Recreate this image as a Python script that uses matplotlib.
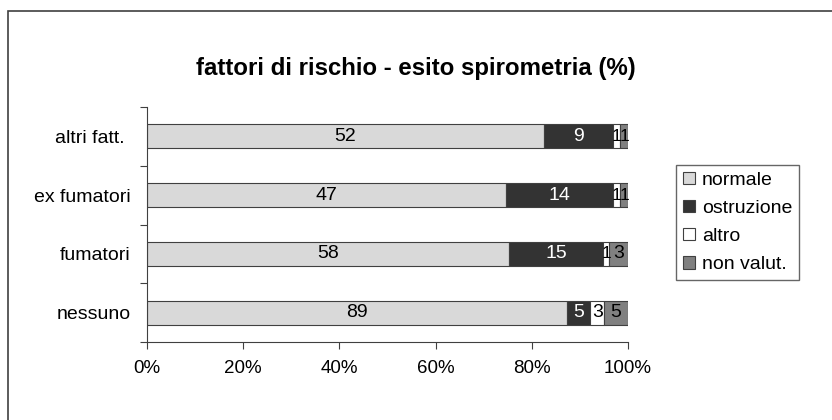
import numpy as np
import matplotlib.pyplot as plt
from matplotlib.patches import Rectangle

plt.rcParams['font.family'] = ['Liberation Sans', 'DejaVu Sans']

# categorie (dal basso verso l'alto) e valori
categorie = ['nessuno', 'fumatori', 'ex fumatori', 'altri fatt. ']
normale = [89, 58, 47, 52]
ostruzione = [5, 15, 14, 9]
altro = [3, 1, 1, 1]
non_valut = [5, 3, 1, 1]

serie = [('normale', normale, '#d9d9d9', 'black'),
         ('ostruzione', ostruzione, '#333333', 'white'),
         ('altro', altro, '#ffffff', 'black'),
         ('non valut.', non_valut, '#808080', 'black')]

totali = np.array(normale) + np.array(ostruzione) + np.array(altro) + np.array(non_valut)

fig = plt.figure(figsize=(8.32, 4.2), dpi=100)
ax = fig.add_axes([0.1767, 0.1857, 0.578, 0.5595])

y = np.arange(len(categorie))
sinistra = np.zeros(len(categorie))
for nome, valori, colore, col_testo in serie:
    perc = np.array(valori) / totali * 100
    ax.barh(y, perc, left=sinistra, height=0.41, color=colore,
            edgecolor='#404040', linewidth=0.8, label=nome)
    for i in range(len(categorie)):
        # etichette strette un po' piu' piccole, come nell'originale
        fs = 14 if perc[i] > 2 else 12.5
        ax.text(sinistra[i] + perc[i] / 2, y[i], str(valori[i]),
                ha='center', va='center', fontsize=fs, color=col_testo)
    sinistra += perc

ax.set_xlim(0, 100)
ax.set_ylim(-0.5, len(categorie) - 0.5)
ax.set_xticks(np.arange(0, 101, 20))
ax.set_xticklabels([f'{v}%' for v in range(0, 101, 20)], fontsize=13.5)
ax.set_yticks(np.arange(-0.5, len(categorie), 1))
ax.set_yticklabels([])
ax.set_yticks(y, minor=True)
ax.set_yticklabels(categorie, minor=True, fontsize=14)
ax.tick_params(axis='y', which='minor', length=0, pad=12)
ax.tick_params(axis='y', which='major', length=5, color='#404040')
ax.tick_params(axis='x', length=5, color='#404040', pad=8)
ax.spines['top'].set_visible(False)
ax.spines['right'].set_visible(False)
ax.spines['left'].set_color('#404040')
ax.spines['bottom'].set_color('#404040')

fig.text(0.5, 0.838, 'fattori di rischio - esito spirometria (%)',
         ha='center', va='center', fontsize=17.3, fontweight='bold')

leg = fig.legend(loc='upper left', bbox_to_anchor=(0.813, 0.607),
                 fontsize=14, frameon=True, fancybox=False,
                 handlelength=0.6, handleheight=0.6, handletextpad=0.35,
                 labelspacing=0.57, borderpad=0.35, borderaxespad=0)
leg.get_frame().set_edgecolor('#404040')
leg.get_frame().set_linewidth(1)

# cornice esterna del grafico
fig.patches.append(Rectangle((0.0096, -0.1), 1.1, 1.074, transform=fig.transFigure,
                             fill=False, edgecolor='#404040', linewidth=1.2))

fig.savefig('out.png', dpi=100)
